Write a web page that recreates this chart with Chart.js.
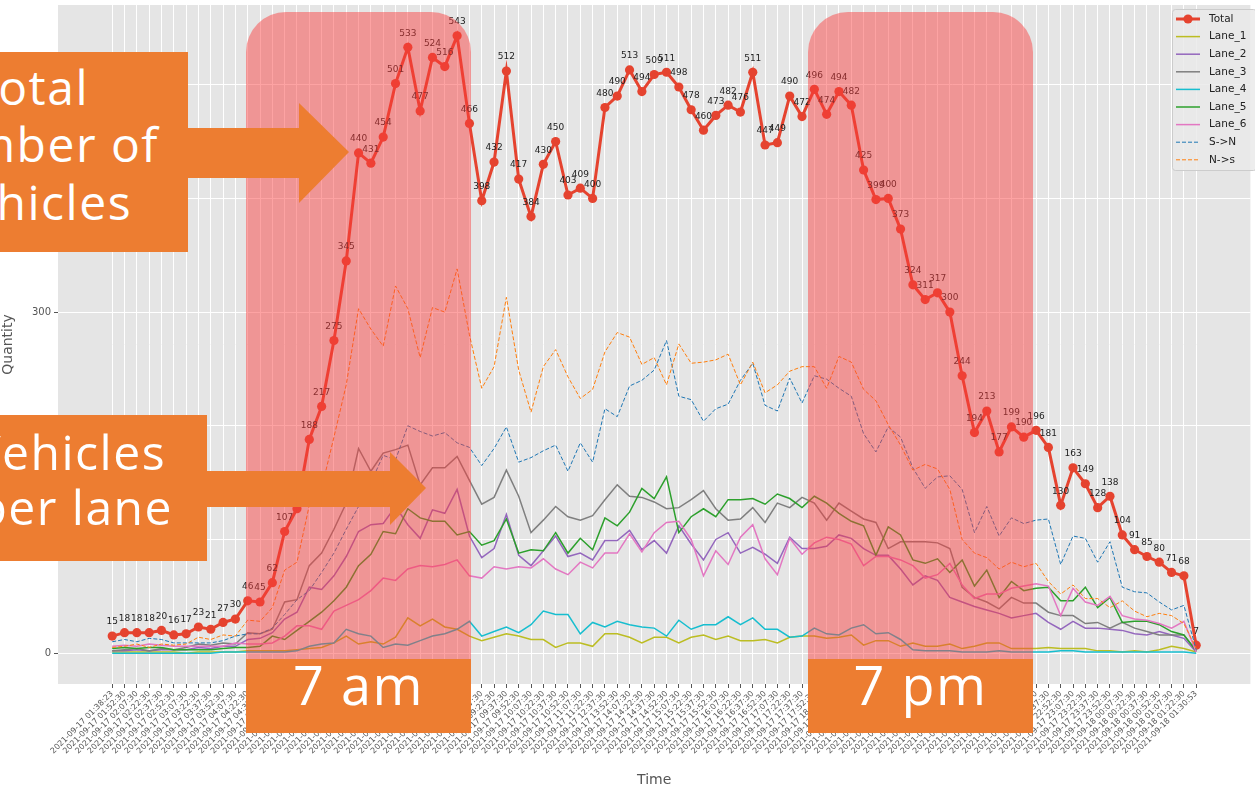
<!DOCTYPE html>
<html><head><meta charset="utf-8">
<script src="https://cdn.jsdelivr.net/npm/chart.js@4.4.1/dist/chart.umd.min.js"></script>
<style>
html,body{margin:0;padding:0;background:#fff;overflow:hidden;}
#wrap{position:relative;width:1255px;height:793px;overflow:hidden;}
#c{position:absolute;left:0;top:0;}
.band{position:absolute;background:rgba(250,60,60,0.47);border-radius:40px 40px 0 0;}
.obox{position:absolute;background:#ED7D31;}
.t{position:absolute;color:#fff;font-family:'Open Sans','Lato',sans-serif;font-weight:400;letter-spacing:1.5px;white-space:nowrap;line-height:1;}
</style></head><body>
<div id="wrap">
<canvas id="c" width="1255" height="793" style="width:1255px;height:793px"></canvas>
<div class="band" style="left:246px;top:12px;width:225px;height:650px"></div>
<div class="band" style="left:808px;top:12px;width:225px;height:650px"></div>
<svg style="position:absolute;left:0;top:0" width="1255" height="793">
<polygon points="188,128 299,128 299,103 349,152 299,203 299,178 188,178" fill="#ED7D31"/>
<polygon points="207,471 390,471 390,452 426,488 390,525 390,507 207,507" fill="#ED7D31"/>
</svg>
<div class="obox" style="left:0;top:52px;width:188px;height:200px"></div>
<div class="obox" style="left:0;top:415px;width:207px;height:146px"></div>
<div class="obox" style="left:246px;top:659px;width:225px;height:74px"></div>
<div class="obox" style="left:808px;top:659px;width:225px;height:74px"></div>
<div class="t" style="left:-211px;width:300px;text-align:right;top:63px;font-size:48px">Total</div>
<div class="t" style="left:-141px;width:300px;text-align:right;top:120px;font-size:48px">number of</div>
<div class="t" style="left:-168px;width:300px;text-align:right;top:178px;font-size:48px">vehicles</div>
<div class="t" style="left:-134px;width:300px;text-align:right;top:428px;font-size:48px">Vehicles</div>
<div class="t" style="left:-127px;width:300px;text-align:right;top:483px;font-size:48px">per lane</div>
<div class="t" style="left:246px;width:225px;text-align:center;top:657px;font-size:54px">7 am</div>
<div class="t" style="left:808px;width:225px;text-align:center;top:657px;font-size:54px">7 pm</div>
</div>
<script>
const timeLabels = [
'2021-09-17 01:38:23','2021-09-17 01:52:30','2021-09-17 02:07:30','2021-09-17 02:22:30','2021-09-17 02:37:30','2021-09-17 02:52:30','2021-09-17 03:07:30','2021-09-17 03:22:30','2021-09-17 03:37:30','2021-09-17 03:52:30',
'2021-09-17 04:07:30','2021-09-17 04:22:30','2021-09-17 04:37:30','2021-09-17 04:52:30','2021-09-17 05:07:30','2021-09-17 05:22:30','2021-09-17 05:37:30','2021-09-17 05:52:30','2021-09-17 06:07:30','2021-09-17 06:22:30',
'2021-09-17 06:37:30','2021-09-17 06:52:30','2021-09-17 07:07:30','2021-09-17 07:22:30','2021-09-17 07:37:30','2021-09-17 07:52:30','2021-09-17 08:07:30','2021-09-17 08:22:30','2021-09-17 08:37:30','2021-09-17 08:52:30',
'2021-09-17 09:07:30','2021-09-17 09:22:30','2021-09-17 09:37:30','2021-09-17 09:52:30','2021-09-17 10:07:30','2021-09-17 10:22:30','2021-09-17 10:37:30','2021-09-17 10:52:30','2021-09-17 11:07:30','2021-09-17 11:22:30',
'2021-09-17 12:37:30','2021-09-17 13:52:30','2021-09-17 14:07:30','2021-09-17 14:22:30','2021-09-17 14:37:30','2021-09-17 14:52:30','2021-09-17 15:07:30','2021-09-17 15:22:30','2021-09-17 15:37:30','2021-09-17 15:52:30',
'2021-09-17 16:07:30','2021-09-17 16:22:30','2021-09-17 16:37:30','2021-09-17 16:52:30','2021-09-17 17:07:30','2021-09-17 17:22:30','2021-09-17 17:37:30','2021-09-17 17:52:30','2021-09-17 18:07:30','2021-09-17 18:22:30',
'2021-09-17 18:37:30','2021-09-17 18:52:30','2021-09-17 19:07:30','2021-09-17 19:22:30','2021-09-17 19:37:30','2021-09-17 19:52:30','2021-09-17 20:07:30','2021-09-17 20:22:30','2021-09-17 20:37:30','2021-09-17 20:52:30',
'2021-09-17 21:07:30','2021-09-17 21:22:30','2021-09-17 21:37:30','2021-09-17 21:52:30','2021-09-17 22:07:30','2021-09-17 22:22:30','2021-09-17 22:37:30','2021-09-17 22:52:30','2021-09-17 23:07:30','2021-09-17 23:22:30',
'2021-09-17 23:37:30','2021-09-17 23:52:30','2021-09-18 00:07:30','2021-09-18 00:22:30','2021-09-18 00:37:30','2021-09-18 00:52:30','2021-09-18 01:07:30','2021-09-18 01:22:30','2021-09-18 01:30:53'];

const total = [15,18,18,18,20,16,17,23,21,27,30,
46,45,62,107,127,188,217,275,345,440,431,454,501,533,477,524,516,543,
466,398,432,512,417,384,430,450,403,409,400,480,490,513,494,509,511,498,478,460,473,482,476,511,447,449,490,472,496,474,
494,482,425,399,400,373,324,311,317,300,244,194,213,177,199,190,196,181,130,163,149,128,138,104,91,85,80,71,68,7];

const lane1 = [1,1,1,1,1,1,0,1,1,1,1,
2,2,2,2,3,4,5,9,15,8,10,8,14,31,24,30,23,21,
15,11,14,17,15,12,12,5,9,9,6,17,17,14,9,14,14,9,14,16,12,15,11,11,12,9,14,15,15,13,
14,16,7,11,11,6,9,6,6,8,4,6,9,9,4,4,4,5,4,4,4,2,2,1,2,1,3,6,4,1];

const lane2 = [2,2,3,2,3,3,3,5,4,6,6,
12,13,18,30,36,58,56,68,85,107,113,114,129,113,101,126,123,144,
103,84,92,122,86,77,90,103,85,88,82,99,99,108,91,99,88,112,96,82,100,106,88,93,87,79,102,92,92,94,
104,101,92,86,86,74,60,68,64,49,45,41,38,35,31,33,35,27,21,28,22,22,21,20,17,16,19,16,13,1];

const lane3 = [2,3,4,2,4,3,5,8,7,9,8,
18,17,21,45,47,77,88,109,132,180,160,176,179,183,148,163,163,173,
152,131,137,161,138,106,117,129,120,117,121,135,148,138,137,133,127,128,135,143,127,117,118,128,115,132,128,137,132,117,
132,125,118,115,92,98,98,98,97,92,58,49,45,39,49,44,44,36,33,33,26,27,22,27,22,19,16,16,16,2];

const lane4 = [0,0,0,0,0,0,0,0,0,1,1,
1,1,1,1,2,6,8,9,21,17,15,5,8,7,11,15,17,21,
28,15,19,23,18,25,37,34,34,17,27,23,28,25,23,22,15,29,21,25,25,32,25,31,21,21,14,15,22,17,
16,22,25,17,18,12,3,2,2,2,1,1,1,2,1,1,1,1,2,2,1,1,1,1,1,1,1,1,1,0];

const lane5 = [4,5,4,5,5,3,3,3,3,4,5,
5,6,15,12,20,28,36,46,58,77,87,107,105,127,119,116,116,104,
107,95,99,118,88,91,90,106,88,101,91,119,112,124,145,136,155,106,120,127,120,135,135,136,131,140,136,128,138,132,
123,116,112,86,111,104,82,79,83,71,82,59,73,49,63,55,57,58,46,46,58,40,49,27,28,28,25,19,16,2];

const lane6 = [6,7,6,8,7,6,6,6,6,6,9,
8,8,9,15,24,24,21,37,42,47,55,66,64,74,77,76,78,82,
68,66,76,74,76,75,83,74,69,80,75,88,88,105,89,106,115,116,100,68,90,78,102,113,83,69,101,87,97,102,
100,96,77,85,85,82,77,66,69,79,60,48,52,52,57,59,61,59,33,57,45,42,50,33,30,29,26,22,28,1];

const southToNorth = [10,12,10,13,12,9,9,9,9,11,15,
17,17,22,34,47,55,71,88,109,129,150,174,170,200,195,191,194,185,
181,165,180,199,168,172,178,183,160,185,168,215,208,235,240,249,275,226,223,204,215,219,240,255,218,213,242,220,244,241,
233,226,193,177,199,190,163,145,155,156,144,106,129,103,119,114,117,118,78,103,101,80,98,58,54,53,45,38,42,3];

const northToSouth = [5,6,8,5,8,7,8,14,12,16,15,
29,28,40,73,80,130,145,190,236,303,285,270,323,303,260,304,300,338,
280,233,252,313,249,212,252,267,243,224,232,265,282,278,254,260,236,272,255,256,258,263,236,256,229,236,248,252,252,233,
261,256,232,222,201,183,161,166,162,144,100,88,84,74,80,76,79,63,52,60,48,48,40,46,37,32,35,33,26,4];

const yTickValues = [0,100,200,300,400,500];

const pts = arr => arr.map((v,i)=>({x:i,y:v}));
const RED = '#E5432F';

const series = [
  {label:'Total', data:total, color:RED, width:3, dash:[], marker:true},
  {label:'Lane_1', data:lane1, color:'#bcbd22', width:1.5, dash:[]},
  {label:'Lane_2', data:lane2, color:'#9467bd', width:1.5, dash:[]},
  {label:'Lane_3', data:lane3, color:'#7f7f7f', width:1.5, dash:[]},
  {label:'Lane_4', data:lane4, color:'#17becf', width:1.5, dash:[]},
  {label:'Lane_5', data:lane5, color:'#2ca02c', width:1.5, dash:[]},
  {label:'Lane_6', data:lane6, color:'#e377c2', width:1.5, dash:[]},
  {label:'S->N', data:southToNorth, color:'#1f77b4', width:1, dash:[4,2]},
  {label:'N->s', data:northToSouth, color:'#ff7f0e', width:1, dash:[4,2]}
];

const datasets = series.map((s,k)=>({
  label:s.label, data:pts(s.data), borderColor:s.color, backgroundColor:s.color,
  borderWidth:s.width, borderDash:s.dash, pointRadius:s.marker?4.6:0, pointHoverRadius:0,
  pointBorderWidth:0, pointBackgroundColor:s.color, tension:0, fill:false, order:series.length-k
}));

const bgPlugin = {id:'bg', beforeDraw(chart){
  const {ctx, chartArea:a} = chart;
  ctx.save(); ctx.fillStyle='#E5E5E5';
  ctx.fillRect(a.left, a.top, a.right-a.left, a.bottom-a.top); ctx.restore();
}};

const labelPlugin = {id:'vals', afterDatasetsDraw(chart){
  const ctx = chart.ctx; const meta = chart.getDatasetMeta(0);
  ctx.save(); ctx.font = '9px "DejaVu Sans"'; ctx.fillStyle='#222';
  ctx.textAlign='center'; ctx.textBaseline='middle';
  meta.data.forEach((p,i)=>{ ctx.fillText(String(total[i]), p.x, p.y-14); });
  ctx.restore();
}};

const legendPlugin = {id:'lg', afterDraw(chart){
  const ctx = chart.ctx;
  const x0=1172, y0=9, w=84, h=161;
  ctx.save();
  ctx.fillStyle='rgba(234,234,234,0.85)'; ctx.strokeStyle='#cccccc'; ctx.lineWidth=1;
  ctx.beginPath(); ctx.roundRect(x0+0.5,y0+0.5,w,h,3); ctx.fill(); ctx.stroke();
  ctx.font='10.5px "DejaVu Sans"'; ctx.textBaseline='middle'; ctx.textAlign='left';
  series.forEach((s,k)=>{
    const y = 19 + k*17.6;
    ctx.strokeStyle=s.color; ctx.lineWidth=s.width; ctx.setLineDash(s.dash);
    ctx.beginPath(); ctx.moveTo(1176,y); ctx.lineTo(1200,y); ctx.stroke();
    ctx.setLineDash([]);
    if(s.marker){ ctx.fillStyle=s.color; ctx.beginPath(); ctx.arc(1188,y,4.6,0,Math.PI*2); ctx.fill(); }
    ctx.fillStyle='#222'; ctx.fillText(s.label, 1209, y);
  });
  ctx.restore();
}};

new Chart(document.getElementById('c'), {
  type:'line',
  data:{datasets},
  options:{
    responsive:false, animation:false, devicePixelRatio:1,
    layout:{padding:{top:5,right:0,left:0,bottom:0}},
    plugins:{legend:{display:false}, tooltip:{enabled:false}},
    scales:{
      x:{type:'linear', min:-4.4, max:92.4,
        afterBuildTicks:s=>{ s.ticks = timeLabels.map((_,i)=>({value:i})); },
        afterFit:s=>{ s.height = 109; },
        ticks:{autoSkip:false, maxRotation:45, minRotation:45, padding:1,
          font:{family:'DejaVu Sans', size:8}, color:'#555',
          callback:v=>timeLabels[v]},
        grid:{color:'#ffffff', lineWidth:1, tickColor:'#555', tickLength:4},
        border:{display:false},
        title:{display:true, text:'Time', color:'#555', font:{family:'DejaVu Sans', size:14}, padding:{top:0,bottom:4}}
      },
      y:{type:'linear', min:-27.15, max:570.15,
        afterBuildTicks:s=>{ s.ticks = yTickValues.map(v=>({value:v})); },
        afterFit:s=>{ s.width = 58; s.paddingTop = 0; s.paddingBottom = 0; },
        ticks:{font:{family:'DejaVu Sans', size:10}, color:'#555', padding:3},
        grid:{color:'#ffffff', lineWidth:1, tickColor:'#555', tickLength:4},
        border:{display:false},
        title:{display:true, text:'Quantity', color:'#555', font:{family:'DejaVu Sans', size:14}, padding:{top:0,bottom:2}}
      }
    }
  },
  plugins:[bgPlugin, labelPlugin, legendPlugin]
});
</script>
</body></html>
